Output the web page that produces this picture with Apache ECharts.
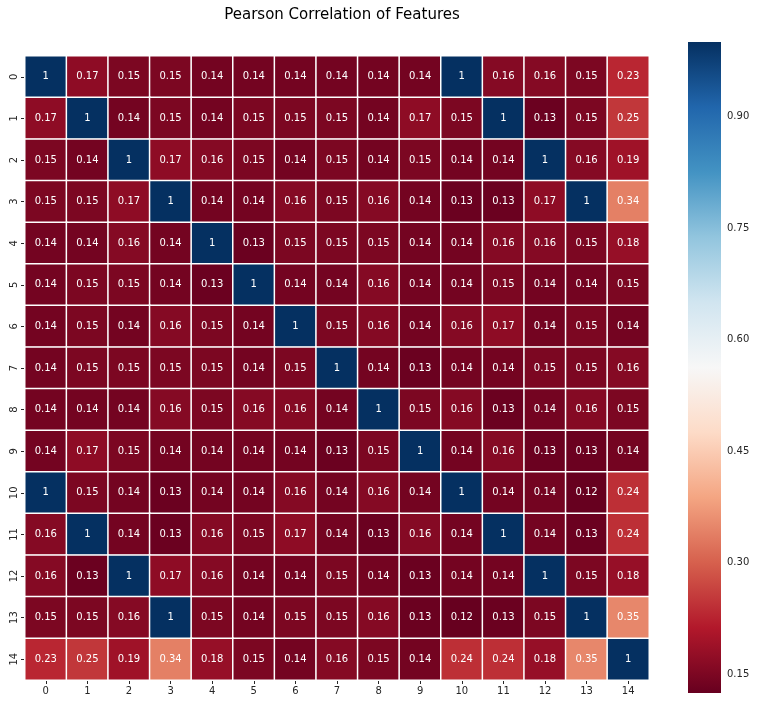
<!DOCTYPE html>
<html><head><meta charset="utf-8">
<script src="https://cdn.jsdelivr.net/npm/echarts@6/dist/echarts.min.js"></script>
<style>html,body{margin:0;padding:0;background:#fff}#c{width:757px;height:705px}</style>
</head><body><div id="c"></div>
<script>
const categories = ['0','1','2','3','4','5','6','7','8','9','10','11','12','13','14'];
const row0  = [1, .17, .15, .15, .14, .14, .14, .14, .14, .14, 1, .16, .16, .15, .23];
const row1  = [.17, 1, .14, .15, .14, .15, .15, .15, .14, .17, .15, 1, .13, .15, .25];
const row2  = [.15, .14, 1, .17, .16, .15, .14, .15, .14, .15, .14, .14, 1, .16, .19];
const row3  = [.15, .15, .17, 1, .14, .14, .16, .15, .16, .14, .13, .13, .17, 1, .34];
const row4  = [.14, .14, .16, .14, 1, .13, .15, .15, .15, .14, .14, .16, .16, .15, .18];
const row5  = [.14, .15, .15, .14, .13, 1, .14, .14, .16, .14, .14, .15, .14, .14, .15];
const row6  = [.14, .15, .14, .16, .15, .14, 1, .15, .16, .14, .16, .17, .14, .15, .14];
const row7  = [.14, .15, .15, .15, .15, .14, .15, 1, .14, .13, .14, .14, .15, .15, .16];
const row8  = [.14, .14, .14, .16, .15, .16, .16, .14, 1, .15, .16, .13, .14, .16, .15];
const row9  = [.14, .17, .15, .14, .14, .14, .14, .13, .15, 1, .14, .16, .13, .13, .14];
const row10 = [1, .15, .14, .13, .14, .14, .16, .14, .16, .14, 1, .14, .14, .12, .24];
const row11 = [.16, 1, .14, .13, .16, .15, .17, .14, .13, .16, .14, 1, .14, .13, .24];
const row12 = [.16, .13, 1, .17, .16, .14, .14, .15, .14, .13, .14, .14, 1, .15, .18];
const row13 = [.15, .15, .16, 1, .15, .14, .15, .15, .16, .13, .12, .13, .15, 1, .35];
const row14 = [.23, .25, .19, .34, .18, .15, .14, .16, .15, .14, .24, .24, .18, .35, 1];
const colorbarTicks = [0.15, 0.30, 0.45, 0.60, 0.75, 0.90];
const colorMin = 0.125;
const colorMax = 1.0;

const rows = [row0,row1,row2,row3,row4,row5,row6,row7,row8,row9,row10,row11,row12,row13,row14];
const data = [];
rows.forEach((r, i) => r.forEach((v, j) => data.push([j, i, v])));

const RDBU = ['#67001f','#b2182b','#d6604d','#f4a582','#fddbc7','#f7f7f7','#d1e5f0','#92c5de','#4393c3','#2166ac','#053061'];
const FONT = 'DejaVu Sans';
const chart = echarts.init(document.getElementById('c'), null, {renderer: 'canvas'});
chart.setOption({
  animation: false,
  backgroundColor: '#fff',
  textStyle: {fontFamily: FONT},
  title: {
    text: 'Pearson Correlation of Features',
    left: 337, top: 3, textAlign: 'center',
    textStyle: {fontFamily: FONT, fontSize: 15, fontWeight: 'normal', color: '#000'}
  },
  grid: [
    {left: 25, top: 56, width: 624, height: 624, containLabel: false},
    {left: 688, top: 42, width: 33, height: 651, containLabel: false}
  ],
  xAxis: [
    {type: 'category', data: categories, gridIndex: 0, position: 'bottom',
     axisLine: {show: false}, splitArea: {show: false},
     axisTick: {show: true, alignWithLabel: true, length: 4, lineStyle: {color: '#262626'}},
     axisLabel: {fontFamily: FONT, fontSize: 10, color: '#262626', margin: 6}},
    {type: 'value', gridIndex: 1, show: false, min: 0, max: 1}
  ],
  yAxis: [
    {type: 'category', data: categories, gridIndex: 0, inverse: true,
     axisLine: {show: false},
     axisTick: {show: true, alignWithLabel: true, length: 4, lineStyle: {color: '#262626'}},
     axisLabel: {fontFamily: FONT, fontSize: 10, color: '#262626', rotate: 90, margin: 6}},
    {type: 'value', gridIndex: 1, position: 'right', min: colorMin, max: colorMax,
     axisLine: {show: false}, splitLine: {show: false},
     axisTick: {show: true, length: 4, customValues: colorbarTicks, lineStyle: {color: '#262626'}},
     axisLabel: {show: true, customValues: colorbarTicks, fontFamily: FONT, fontSize: 10, color: '#262626', margin: 6,
       formatter: v => v.toFixed(2)}}
  ],
  visualMap: {
    type: 'continuous', seriesIndex: 0, min: colorMin, max: colorMax, show: false,
    inRange: {color: RDBU}
  },
  series: [{
    type: 'heatmap', xAxisIndex: 0, yAxisIndex: 0, data: data,
    label: {show: true, color: '#ffffff', fontFamily: FONT, fontSize: 10,
      formatter: p => { const v = p.value[2]; return v === 1 ? '1' : String(v); }},
    itemStyle: {borderColor: '#ffffff', borderWidth: 1.5},
    emphasis: {disabled: true}
  }, {
    type: 'custom', xAxisIndex: 1, yAxisIndex: 1, silent: true,
    data: [[colorMin, colorMax]],
    renderItem: (params, api) => {
      const p0 = api.coord([0, api.value(1)]);
      const p1 = api.coord([1, api.value(0)]);
      const stops = RDBU.map((c, i) => ({offset: 1 - i / (RDBU.length - 1), color: c}));
      stops.reverse();
      return {
        type: 'rect',
        shape: {x: p0[0], y: p0[1], width: p1[0] - p0[0], height: p1[1] - p0[1]},
        style: {fill: new echarts.graphic.LinearGradient(0, 0, 0, 1, stops)}
      };
    }
  }]
});
</script></body></html>
